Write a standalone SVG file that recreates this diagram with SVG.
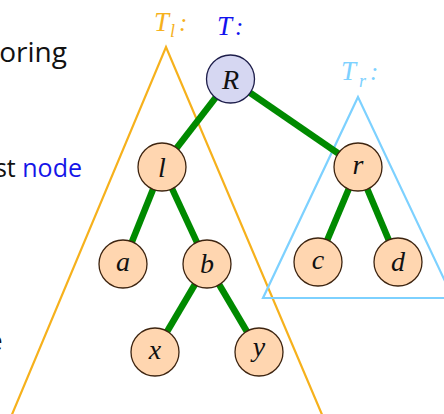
<svg xmlns="http://www.w3.org/2000/svg" width="444" height="414" viewBox="0 0 444 414">
<style>
.txt{font-family:"Open Sans","Liberation Sans",sans-serif;fill:#111}
.lab{font-family:"Liberation Serif","DejaVu Serif",serif;font-style:italic;font-size:28px;fill:#111;text-anchor:middle}
.nd{fill:#FFD6B0;stroke:#3d2410;stroke-width:1.3}
.root{fill:#D6D7F2;stroke:#1d1d4a;stroke-width:1.3}
.edge{stroke:#008a00;stroke-width:6.5;stroke-linecap:butt}
.tri{fill:none;stroke-width:2.2;stroke-linejoin:miter}
.tl{font-family:"Liberation Serif","DejaVu Serif",serif;font-style:italic}
</style>
<rect width="444" height="414" fill="#fff"/>
<g id="text-left">
<text class="txt" x="67" y="62" font-size="28" text-anchor="end">oring</text>
<text class="txt" x="82" y="177" font-size="25" text-anchor="end">st <tspan fill="#1515e8">node</tspan></text>
<text class="txt" x="2.5" y="350" font-size="25" text-anchor="end">e</text>
</g>
<g id="triangle-Tl">
<polyline class="tri" stroke="#F6B11C" points="8,424 166,47 326,424"/>
<text class="tl" x="154" y="31" font-size="27" fill="#F6B11C">T</text>
<text class="tl" x="170" y="37" font-size="18" fill="#F6B11C">l</text>
<text class="tl" x="179" y="31" font-size="25" fill="#F6B11C">:</text>
</g>
<g id="triangle-Tr">
<polygon class="tri" stroke="#7DD1FF" points="358,97 263,298 453,298"/>
<text class="tl" x="341" y="80" font-size="27" fill="#7DD1FF">T</text>
<text class="tl" x="359" y="87" font-size="18" fill="#7DD1FF">r</text>
<text class="tl" x="370" y="80" font-size="25" fill="#7DD1FF">:</text>
</g>
<g id="label-T">
<text class="tl" x="217" y="35" font-size="27" fill="#1212ee">T<tspan font-size="25" dx="3">:</tspan></text>
</g>
<g id="connectors">
<line class="edge" x1="230" y1="79" x2="162" y2="167"/>
<line class="edge" x1="230" y1="79" x2="358" y2="167"/>
<line class="edge" x1="162" y1="167" x2="123" y2="264"/>
<line class="edge" x1="162" y1="167" x2="207" y2="264"/>
<line class="edge" x1="358" y1="167" x2="318" y2="262"/>
<line class="edge" x1="358" y1="167" x2="398" y2="262"/>
<line class="edge" x1="207" y1="264" x2="155" y2="352"/>
<line class="edge" x1="207" y1="264" x2="259" y2="352"/>
</g>
<g id="node-R"><circle class="root" cx="230.5" cy="79" r="24"/><text class="lab" x="230.5" y="89">R</text></g>
<g id="node-l"><circle class="nd" cx="162" cy="167" r="24"/><text class="lab" x="162" y="177">l</text></g>
<g id="node-r"><circle class="nd" cx="358" cy="167" r="24"/><text class="lab" x="358" y="173.5">r</text></g>
<g id="node-a"><circle class="nd" cx="123" cy="264" r="24"/><text class="lab" x="123" y="270.5">a</text></g>
<g id="node-b"><circle class="nd" cx="207" cy="264" r="24"/><text class="lab" x="207" y="273">b</text></g>
<g id="node-c"><circle class="nd" cx="318" cy="262" r="24"/><text class="lab" x="318" y="268.5">c</text></g>
<g id="node-d"><circle class="nd" cx="398" cy="262" r="24"/><text class="lab" x="398" y="271">d</text></g>
<g id="node-x"><circle class="nd" cx="155" cy="352" r="24"/><text class="lab" x="155" y="358.5">x</text></g>
<g id="node-y"><circle class="nd" cx="259" cy="352" r="24"/><text class="lab" x="259" y="355.5">y</text></g>
</svg>
